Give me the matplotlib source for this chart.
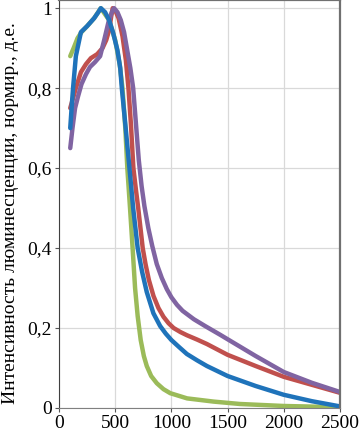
import matplotlib.pyplot as plt
from matplotlib.ticker import FuncFormatter

# время (x) и нормированная интенсивность (y) для каждой кривой
green_x = [100, 130, 165, 200, 250, 313, 372, 446, 500, 540, 565, 590, 608, 632, 655, 677, 700, 727, 755, 781, 820, 870, 930, 990, 1140, 1375, 1610, 2000, 2500]
green_y = [0.88, 0.90, 0.925, 0.94, 0.955, 0.975, 1.0, 0.97, 0.92, 0.86, 0.80, 0.70, 0.60, 0.50, 0.40, 0.30, 0.23, 0.17, 0.13, 0.105, 0.08, 0.062, 0.047, 0.037, 0.024, 0.016, 0.01, 0.005, 0.002]

red_x = [100, 150, 195, 240, 284, 340, 387, 420, 446, 465, 478, 500, 530, 565, 595, 618, 640, 662, 685, 705, 725, 745, 770, 800, 841, 885, 930, 975, 1020, 1080, 1138, 1230, 1316, 1500, 1750, 2000, 2250, 2500]
red_y = [0.75, 0.80, 0.84, 0.86, 0.875, 0.885, 0.90, 0.92, 0.945, 0.98, 1.0, 0.995, 0.975, 0.93, 0.87, 0.80, 0.71, 0.60, 0.545, 0.50, 0.45, 0.40, 0.36, 0.32, 0.28, 0.25, 0.228, 0.212, 0.20, 0.19, 0.182, 0.171, 0.16, 0.133, 0.105, 0.078, 0.058, 0.038]

purple_x = [100, 120, 143, 170, 200, 240, 276, 320, 366, 402, 440, 470, 490, 520, 550, 579, 610, 635, 660, 685, 710, 735, 760, 795, 830, 870, 915, 960, 1000, 1050, 1100, 1200, 1300, 1435, 1500, 1750, 2000, 2250, 2500]
purple_y = [0.65, 0.70, 0.75, 0.78, 0.81, 0.835, 0.853, 0.865, 0.88, 0.92, 0.965, 0.99, 1.0, 0.99, 0.97, 0.94, 0.89, 0.85, 0.80, 0.71, 0.62, 0.555, 0.505, 0.45, 0.405, 0.36, 0.325, 0.297, 0.277, 0.258, 0.243, 0.222, 0.205, 0.183, 0.172, 0.13, 0.09, 0.063, 0.04]

blue_x = [100, 112, 125, 150, 195, 250, 313, 350, 372, 410, 446, 480, 520, 545, 559, 590, 627, 660, 700, 740, 781, 840, 900, 950, 1000, 1070, 1138, 1230, 1316, 1500, 1750, 2000, 2250, 2500]
blue_y = [0.70, 0.75, 0.80, 0.88, 0.94, 0.955, 0.975, 0.99, 1.0, 0.99, 0.97, 0.94, 0.895, 0.85, 0.80, 0.71, 0.60, 0.50, 0.40, 0.34, 0.29, 0.237, 0.205, 0.186, 0.17, 0.152, 0.135, 0.119, 0.105, 0.08, 0.055, 0.033, 0.017, 0.004]

plt.rcParams['font.family'] = ['Liberation Serif', 'DejaVu Serif']

fig = plt.figure(figsize=(3.62, 4.32), dpi=100)
ax = fig.add_axes([0.163, 0.0556, 0.776, 0.944])

lw = 3.2
style = dict(lw=lw, solid_joinstyle='round', solid_capstyle='round')
ax.plot(green_x, green_y, color='#9BBB59', **style)
ax.plot(red_x, red_y, color='#C0504D', **style)
ax.plot(purple_x, purple_y, color='#8064A2', **style)
ax.plot(blue_x, blue_y, color='#1F73BA', **style)

ax.set_xlim(0, 2500)
ax.set_ylim(0, 1.02)
ax.set_xticks([0, 500, 1000, 1500, 2000, 2500])
ax.set_yticks([0, 0.2, 0.4, 0.6, 0.8, 1.0])
ax.yaxis.set_major_formatter(FuncFormatter(lambda v, p: ('%g' % round(v, 1)).replace('.', ',')))
ax.grid(True, color='#D9D9D9', lw=0.9)
ax.set_axisbelow(True)
ax.tick_params(labelsize=14, length=3, width=0.8, pad=2, color='#555555')

for side in ['top', 'right']:
    ax.spines[side].set_color('#707070')
    ax.spines[side].set_linewidth(1.6)
ax.spines['left'].set_color('#404040')
ax.spines['bottom'].set_color('#808080')

ax.set_ylabel('Интенсивность люминесценции, нормир., д.е.', fontsize=14)
ax.yaxis.set_label_coords(-0.142, 0.478)

fig.savefig('out.png', dpi=100)
